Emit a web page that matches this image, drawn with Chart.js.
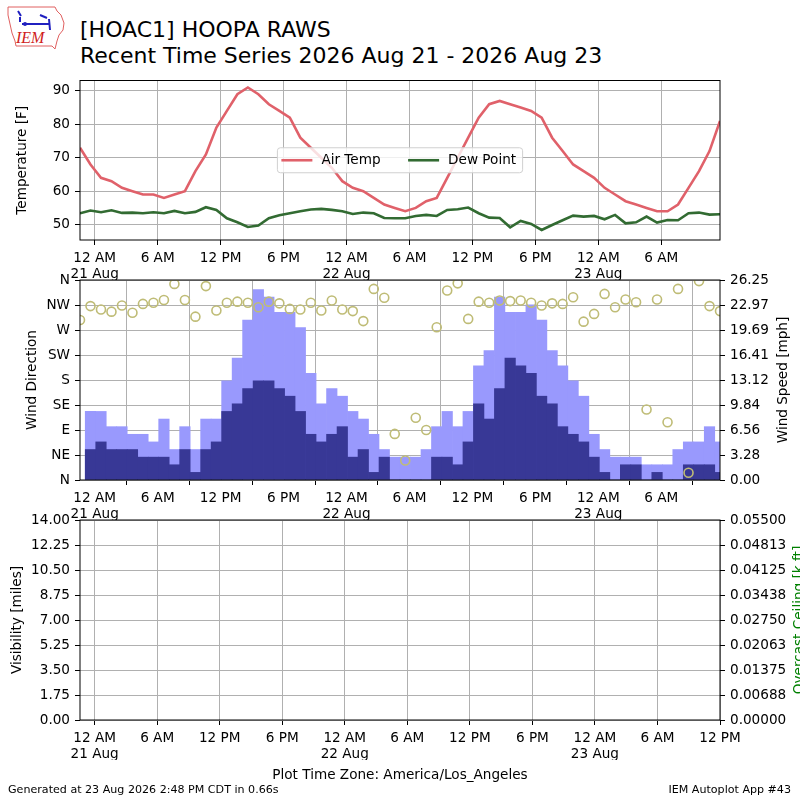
<!DOCTYPE html>
<html>
<head>
<meta charset="utf-8">
<title>HOAC1 Recent Time Series</title>
<script src="https://cdn.jsdelivr.net/npm/chart.js@4.4.1/dist/chart.umd.min.js"></script>
<style>
  body { margin: 0; width: 800px; height: 800px; position: relative; background: #fff; overflow: hidden; font-family: "DejaVu Sans"; }
  canvas { position: absolute; left: 0; top: 0; }
  .t { position: absolute; white-space: nowrap; line-height: 1; color: #000; }
</style>
</head>
<body>

<svg style="position:absolute;left:0;top:0" width="80" height="56">
  <path d="M8 7 L55 7 L57 11 L61 15 L64 23 L63 30 L59 35 L57 41 L55 49 L52 46 L16 46 L15 41 L12 33 L10 24 L8 15 Z" fill="none" stroke="#e06060" stroke-width="1"/>
  <path d="M18 11 L21 16 M20 17 L20 22 M22 24 L50 24 M40 15 L47 18 M49 19 L50 30" stroke="#2020c0" stroke-width="2" fill="none"/>
  <circle cx="25" cy="24" r="2" fill="#2020c0"/>
  <text x="16" y="43" font-family="Liberation Serif" font-style="italic" font-size="16" fill="#d02020">IEM</text>
</svg>

<div class="t" style="left:80px;top:19px;font-size:22px">[HOAC1] HOOPA RAWS</div>
<div class="t" style="left:80px;top:45.4px;font-size:22px">Recent Time Series 2026 Aug 21 - 2026 Aug 23</div>

<canvas id="tempChart" width="800" height="800"></canvas>
<canvas id="windChart" width="800" height="800"></canvas>
<canvas id="visChart" width="800" height="800"></canvas>

<div class="t" style="left:0;width:800px;text-align:center;top:767.5px;font-size:13.6px">Plot Time Zone: America/Los_Angeles</div>
<div class="t" style="left:8px;top:784px;font-size:11.1px">Generated at 23 Aug 2026 2:48 PM CDT in 0.66s</div>
<div class="t" style="right:9px;top:784px;font-size:11.1px">IEM Autoplot App #43</div>

<script>
// Observation times, hours after 21 Aug 00:00 local time
const obsHours = [-1.4, -0.4, 0.6, 1.6, 2.6, 3.6, 4.6, 5.6, 6.6, 7.6,
    8.6, 9.6, 10.6, 11.6, 12.6, 13.6, 14.6, 15.6, 16.6, 17.6,
    18.6, 19.6, 20.6, 21.6, 22.6, 23.6, 24.6, 25.6, 26.6, 27.6,
    28.6, 29.6, 30.6, 31.6, 32.6, 33.6, 34.6, 35.6, 36.6, 37.6,
    38.6, 39.6, 40.6, 41.6, 42.6, 43.6, 44.6, 45.6, 46.6, 47.6,
    48.6, 49.6, 50.6, 51.6, 52.6, 53.6, 54.6, 55.6, 56.6, 57.6,
    58.6, 59.6];

const airTemp = [73, 68, 64, 63, 61, 60, 59, 59, 58, 59,
    60, 66, 71, 79, 84, 89, 91, 89, 86, 84,
    82, 76, 73, 70, 67, 63, 61, 60, 58, 56,
    55, 54, 55, 57, 58, 64, 70, 76, 82, 86,
    87, 86, 85, 84, 82, 76, 72, 68, 66, 64,
    61, 59, 57, 56, 55, 54, 54, 56, 61, 66,
    72, 81];

const dewPoint = [53.4, 54.2, 53.7, 54.3, 53.5, 53.6, 53.4, 53.7, 53.4, 54.1,
    53.4, 53.8, 55.2, 54.4, 51.9, 50.7, 49.3, 49.7, 51.9, 52.8,
    53.4, 54.0, 54.5, 54.7, 54.4, 54.0, 53.2, 53.6, 53.4, 52.0,
    51.9, 51.9, 52.6, 52.9, 52.6, 54.4, 54.6, 55.1, 53.4, 52.1,
    52.0, 49.2, 51.1, 50.2, 48.4, 49.9, 51.3, 52.7, 52.4, 52.6,
    51.6, 52.9, 50.4, 50.7, 52.4, 50.6, 51.4, 51.3, 53.4, 53.6,
    53.0, 53.1];

// wind direction [deg], speed and gust [mph]
const windDir = [288, 313, 307, 303, 314, 301, 317, 319, 324, 353,
    324, 294, 349, 305, 319, 321, 319, 311, 321, 318,
    308, 307, 319, 305, 323, 307, 304, 286, 344, 328,
    83, 35, 112, 90, 275, 341, 354, 290, 321, 319,
    323, 322, 323, 319, 314, 318, 317, 329, 285, 299,
    335, 311, 325, 320, 127, 325, 104, 344, 13, 358,
    313, 304];

const windSpeed = [null, 4, 5, 4, 4, 4, 3, 3, 3, 2,
    4, 1, 4, 5, 9, 10, 12, 13, 13, 12,
    11, 9, 6, 5, 6, 7, 3, 4, 1, 3,
    0, 0, 0, 0, 3, 3, 2, 5, 10, 8,
    12, 16, 15, 14, 11, 10, 7, 6, 5, 3,
    1, 0, 2, 2, 0, 1, 0, 0, 2, 2,
    2, 1];

const windGust = [null, 9, 9, 7, 7, 6, 6, 5, 8, 4,
    7, 4, 8, 8, 13, 16, 21, 25, 24, 22,
    22, 20, 14, 10, 12, 11, 9, 8, 6, 4,
    3, 3, 3, 4, 7, 9, 7, 9, 15, 17,
    24, 22, 22, 23, 21, 17, 15, 13, 11, 6,
    4, 3, 3, 3, 2, 2, 2, 4, 5, 5,
    7, 5];

// tick positions and labels
const hourTicks = [0, 6, 12, 18, 24, 30, 36, 42, 48, 54];
const hourLabels = [["12 AM", "21 Aug"], "6 AM", "12 PM", "6 PM", ["12 AM", "22 Aug"],
    "6 AM", "12 PM", "6 PM", ["12 AM", "23 Aug"], "6 AM"];
const hourTicksLast = [0, 6, 12, 18, 24, 30, 36, 42, 48, 54, 60];
const hourLabelsLast = [["12 AM", "21 Aug"], "6 AM", "12 PM", "6 PM", ["12 AM", "22 Aug"],
    "6 AM", "12 PM", "6 PM", ["12 AM", "23 Aug"], "6 AM", "12 PM"];

const tempTicks = [50, 60, 70, 80, 90];
const tempLabels = ["50", "60", "70", "80", "90"];
const dirTicks = [0, 45, 90, 135, 180, 225, 270, 315, 360];
const dirLabels = ["N", "NE", "E", "SE", "S", "SW", "W", "NW", "N"];
const speedTicks = [0, 3.28125, 6.5625, 9.84375, 13.125, 16.40625, 19.6875, 22.96875, 26.25];
const speedLabels = ["0.00", "3.28", "6.56", "9.84", "13.12", "16.41", "19.69", "22.97", "26.25"];
const visTicks = [0, 1.75, 3.5, 5.25, 7, 8.75, 10.5, 12.25, 14];
const visLabels = ["0.00", "1.75", "3.50", "5.25", "7.00", "8.75", "10.50", "12.25", "14.00"];
const ceilTicks = [0, 0.006875, 0.01375, 0.020625, 0.0275, 0.034375, 0.04125, 0.048125, 0.055];
const ceilLabels = ["0.00000", "0.00688", "0.01375", "0.02063", "0.02750",
    "0.03438", "0.04125", "0.04813", "0.05500"];

const GRID = "#b0b0b0";
const FONT = 13.6;

Chart.defaults.font.family = "DejaVu Sans";
Chart.defaults.font.size = FONT;
Chart.defaults.color = "#000";

// Axis with its ticks fixed to the given positions and labels
function fixedAxis(values, labels, extra) {
    const axis = {
        type: "linear",
        afterBuildTicks: (scale) => { scale.ticks = values.map(v => ({ value: v })); },
        border: { display: false },
        grid: { color: GRID, lineWidth: 1, tickLength: 5, tickColor: "#000" },
        ticks: { callback: (v, i) => labels[i], padding: 5, autoSkip: false, maxRotation: 0 },
    };
    return Object.assign(axis, extra);
}

function timeAxis(values, labels, maxHour) {
    return fixedAxis(values, labels, {
        position: "bottom",
        min: obsHours[0],
        max: maxHour,
        offset: false,
        afterFit: (scale) => { scale.height = 40; },
    });
}

function points(ys) {
    return obsHours.map((h, i) => ({ x: h, y: ys[i] }));
}

// Black box round the plot area
const frame = {
    id: "frame",
    afterDraw(chart) {
        const { ctx, chartArea: a } = chart;
        ctx.save();
        ctx.strokeStyle = "#000";
        ctx.lineWidth = 1;
        ctx.strokeRect(a.left, a.top, a.right - a.left, a.bottom - a.top);
        ctx.restore();
    }
};

// Legend drawn in the middle of the plot, two columns
const insideLegend = {
    id: "insideLegend",
    afterDatasetsDraw(chart) {
        const { ctx, chartArea: a } = chart;
        const items = chart.data.datasets;
        ctx.save();
        ctx.font = FONT + 'px "DejaVu Sans"';
        const sample = 31, gap = 9, colGap = 27.5, padL = 4, padR = 6.5, h = 25;
        const widths = items.map(d => sample + gap + ctx.measureText(d.label).width);
        const w = padL + padR + widths.reduce((s, v) => s + v, 0) + colGap * (items.length - 1);
        const x0 = (a.left + a.right) / 2 - w / 2;
        const y0 = (a.top + a.bottom) / 2 - h / 2;
        ctx.beginPath();
        ctx.roundRect(x0, y0, w, h, 3);
        ctx.fillStyle = "rgba(255,255,255,0.8)";
        ctx.fill();
        ctx.strokeStyle = "#d0d0d0";
        ctx.lineWidth = 1;
        ctx.stroke();
        let x = x0 + padL;
        const yc = y0 + h / 2;
        items.forEach((d, i) => {
            ctx.beginPath();
            ctx.moveTo(x, yc);
            ctx.lineTo(x + sample, yc);
            ctx.strokeStyle = d.borderColor;
            ctx.lineWidth = d.borderWidth;
            ctx.stroke();
            ctx.fillStyle = "#000";
            ctx.textBaseline = "middle";
            ctx.fillText(d.label, x + sample + gap, yc);
            x += widths[i] + colGap;
        });
        ctx.restore();
    }
};

// Right-hand axis title, reading bottom to top
const sideTitle = {
    id: "sideTitle",
    afterDraw(chart, args, opts) {
        if (!opts.text) return;
        const { ctx, chartArea: a } = chart;
        ctx.save();
        ctx.translate(opts.x, (a.top + a.bottom) / 2);
        ctx.rotate(-Math.PI / 2);
        ctx.font = FONT + 'px "DejaVu Sans"';
        ctx.fillStyle = opts.color;
        ctx.textAlign = "center";
        ctx.textBaseline = "middle";
        ctx.fillText(opts.text, 0, 0);
        ctx.restore();
    }
};

const common = {
    responsive: false,
    animation: false,
    events: [],
};

// Temperature panel
new Chart(document.getElementById("tempChart"), {
    type: "line",
    data: {
        datasets: [
            {
                label: "Air Temp",
                data: points(airTemp),
                borderColor: "#e0616a",
                borderWidth: 2.6,
                pointRadius: 0,
                tension: 0,
            },
            {
                label: "Dew Point",
                data: points(dewPoint),
                borderColor: "#326b32",
                borderWidth: 2.6,
                pointRadius: 0,
                tension: 0,
            },
        ],
    },
    options: Object.assign({}, common, {
        layout: { padding: { left: 10, right: 80, top: 80.5, bottom: 520 } },
        plugins: { legend: { display: false }, tooltip: { enabled: false } },
        scales: {
            x: timeAxis(hourTicks, hourLabels, obsHours[obsHours.length - 1]),
            y: fixedAxis(tempTicks, tempLabels, {
                position: "left",
                min: 45.4,
                max: 93.1,
                title: { display: true, text: "Temperature [F]" },
                afterFit: (scale) => { scale.width = 70; },
            }),
        },
    }),
    plugins: [frame, insideLegend],
});

// Wind panel
new Chart(document.getElementById("windChart"), {
    type: "bar",
    data: {
        datasets: [
            {
                type: "scatter",
                label: "Wind Direction",
                data: points(windDir),
                yAxisID: "yDir",
                showLine: false,
                pointRadius: 4.5,
                pointBorderWidth: 1.6,
                pointBorderColor: "#bfbc76",
                pointBackgroundColor: "rgba(0,0,0,0)",
                order: 0,
                clip: 0,
            },
            {
                label: "Wind Speed",
                data: points(windSpeed),
                yAxisID: "ySpd",
                backgroundColor: "#383896",
                grouped: false,
                barPercentage: 1,
                categoryPercentage: 1,
                order: 1,
                clip: 0,
            },
            {
                label: "Wind Gust",
                data: points(windGust),
                yAxisID: "ySpd",
                backgroundColor: "#9999fd",
                grouped: false,
                barPercentage: 1,
                categoryPercentage: 1,
                order: 2,
                clip: 0,
            },
        ],
    },
    options: Object.assign({}, common, {
        layout: { padding: { left: 20, right: 0, top: 280, bottom: 280 } },
        plugins: {
            legend: { display: false },
            tooltip: { enabled: false },
            sideTitle: { text: "Wind Speed [mph]", x: 783, color: "#000" },
        },
        scales: {
            x: Object.assign(timeAxis(hourTicks, hourLabels, obsHours[obsHours.length - 1]), { z: 1 }),
            yDir: fixedAxis(dirTicks, dirLabels, {
                position: "left",
                min: 0,
                max: 360,
                z: 1,
                title: { display: true, text: "Wind Direction" },
                afterFit: (scale) => { scale.width = 60; },
            }),
            ySpd: fixedAxis(speedTicks, speedLabels, {
                position: "right",
                min: 0,
                max: 26.25,
                z: 1,
                grid: { drawOnChartArea: false, tickLength: 5, tickColor: "#000" },
                afterFit: (scale) => { scale.width = 80; },
            }),
        },
    }),
    plugins: [frame, sideTitle],
});

// Visibility / ceiling panel (no observations)
new Chart(document.getElementById("visChart"), {
    type: "line",
    data: { datasets: [] },
    options: Object.assign({}, common, {
        layout: { padding: { left: 5, right: 0, top: 520, bottom: 40 } },
        plugins: {
            legend: { display: false },
            tooltip: { enabled: false },
            sideTitle: { text: "Overcast Ceiling [k ft]", x: 799, color: "#008000" },
        },
        scales: {
            x: timeAxis(hourTicksLast, hourLabelsLast, 60),
            yVis: fixedAxis(visTicks, visLabels, {
                position: "left",
                min: 0,
                max: 14,
                title: { display: true, text: "Visibility [miles]" },
                afterFit: (scale) => { scale.width = 75; },
            }),
            yCeil: fixedAxis(ceilTicks, ceilLabels, {
                position: "right",
                min: 0,
                max: 0.055,
                grid: { drawOnChartArea: false, tickLength: 5, tickColor: "#000" },
                afterFit: (scale) => { scale.width = 80; },
            }),
        },
    }),
    plugins: [frame, sideTitle],
});
</script>
</body>
</html>
